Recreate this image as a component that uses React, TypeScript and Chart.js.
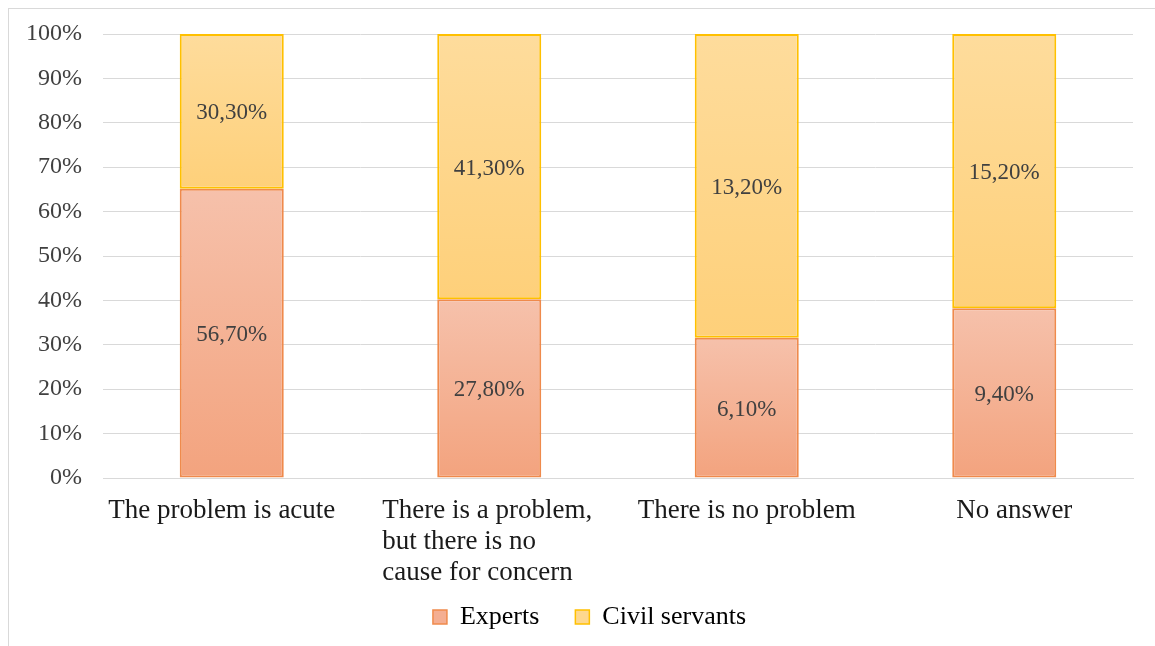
import React, { useEffect, useRef } from "react";
import { Chart, registerables } from "chart.js";

Chart.register(...registerables);

const categories: string[][] = [
  ["The problem is acute"],
  ["There is a problem,", "but there is no", "cause for concern"],
  ["There is no problem"],
  ["No answer"],
];
const seriesNames = ["Experts", "Civil servants"];
const experts = [56.7, 27.8, 6.1, 9.4];
const civilServants = [30.3, 41.3, 13.2, 15.2];
const yTickStep = 10;

const FONT = "'Liberation Serif', 'Times New Roman', serif";
// small horizontal nudges of the category labels (style only)
const LABEL_NUDGE = [-10, -2, 0, 10];

const share = (a: number[], b: number[]) => a.map((v, i) => (v / (v + b[i])) * 100);

const expertsShare = share(experts, civilServants);
const civilShare = share(civilServants, experts);

const COLORS = {
  expertsTop: "#F6C1AB",
  expertsBottom: "#F3A37E",
  expertsBorder: "#EF8A4C",
  civilTop: "#FEDC9C",
  civilBottom: "#FED07A",
  civilBorder: "#FFC000",
  grid: "#D9D9D9",
};

function makeGradient(chart: any, top: number, bottom: number, cTop: string, cBottom: string) {
  const y = chart.scales?.y;
  if (!y) return cBottom;
  const yTop = y.getPixelForValue(top);
  const yBot = y.getPixelForValue(bottom);
  if (!isFinite(yTop) || !isFinite(yBot)) return cBottom;
  const g = chart.ctx.createLinearGradient(0, yTop, 0, yBot);
  g.addColorStop(0, cTop);
  g.addColorStop(1, cBottom);
  return g;
}

const dataLabelPlugin = {
  id: "dataLabels",
  afterDatasetsDraw(chart: any) {
    const ctx = chart.ctx;
    ctx.save();
    ctx.font = `23px ${FONT}`;
    ctx.fillStyle = "#404040";
    ctx.textAlign = "center";
    ctx.textBaseline = "middle";
    const raws = [experts, civilServants];
    chart.data.datasets.forEach((_: any, di: number) => {
      const meta = chart.getDatasetMeta(di);
      meta.data.forEach((el: any, i: number) => {
        const v = raws[di][i];
        const txt = v.toFixed(2).replace(".", ",") + "%";
        ctx.fillText(txt, el.x, (el.y + el.base) / 2 + 2);
      });
    });
    ctx.restore();
  },
};

const xLabelPlugin = {
  id: "xLabels",
  afterLayout(chart: any) {
    if (chart.legend) {
      chart.legend.left += 19;
      chart.legend.right += 19;
    }
  },
  afterDraw(chart: any) {
    const ctx = chart.ctx;
    const xs = chart.scales.x;
    ctx.save();
    ctx.font = `27px ${FONT}`;
    ctx.fillStyle = "#1A1A1A";
    ctx.textAlign = "left";
    ctx.textBaseline = "alphabetic";
    categories.forEach((lines, i) => {
      const cx = xs.getPixelForValue(i) + LABEL_NUDGE[i];
      const w = Math.max(...lines.map((l) => ctx.measureText(l).width));
      const left = cx - w / 2;
      lines.forEach((l, j) => {
        ctx.fillText(l, left, xs.top + 40 + j * 31);
      });
    });
    ctx.restore();
  },
};

export default function App() {
  const ref = useRef<HTMLCanvasElement | null>(null);

  useEffect(() => {
    if (!ref.current) return;
    const chart = new Chart(ref.current, {
      type: "bar",
      data: {
        labels: categories.map((c) => c.join(" ")),
        datasets: [
          {
            label: seriesNames[0],
            data: expertsShare,
            backgroundColor: (c: any) =>
              c.dataIndex === undefined
                ? COLORS.expertsBottom
                : makeGradient(c.chart, expertsShare[c.dataIndex], 0, COLORS.expertsTop, COLORS.expertsBottom),
            borderColor: COLORS.expertsBorder,
            borderWidth: 2,
            borderSkipped: false,
            categoryPercentage: 0.404,
            barPercentage: 1,
          },
          {
            label: seriesNames[1],
            data: civilShare,
            backgroundColor: (c: any) =>
              c.dataIndex === undefined
                ? COLORS.civilBottom
                : makeGradient(c.chart, 100, expertsShare[c.dataIndex], COLORS.civilTop, COLORS.civilBottom),
            borderColor: COLORS.civilBorder,
            borderWidth: 2,
            borderSkipped: false,
            categoryPercentage: 0.404,
            barPercentage: 1,
          },
        ],
      },
      options: {
        responsive: false,
        animation: false,
        devicePixelRatio: 1,
        layout: { padding: { left: 0, right: 22, top: 26, bottom: 6 } },
        plugins: {
          tooltip: { enabled: false },
          legend: {
            position: "bottom",
            labels: {
              font: { family: FONT, size: 26 },
              color: "#1A1A1A",
              boxWidth: 14,
              boxHeight: 14,
              padding: 36,
              generateLabels: () => [
                { text: seriesNames[0], fillStyle: "#F4AE92", strokeStyle: COLORS.expertsBorder, lineWidth: 1.5, datasetIndex: 0, hidden: false },
                { text: seriesNames[1], fillStyle: "#FED88F", strokeStyle: COLORS.civilBorder, lineWidth: 1.5, datasetIndex: 1, hidden: false },
              ] as any,
            },
          },
        },
        scales: {
          x: {
            stacked: true,
            grid: { display: false },
            border: { display: true, color: COLORS.grid, width: 1 },
            ticks: { display: false },
            afterFit: (s: any) => {
              s.height = 90;
              s.paddingLeft = 0;
              s.paddingRight = 0;
            },
          },
          y: {
            stacked: true,
            min: 0,
            max: 100,
            ticks: {
              stepSize: yTickStep,
              padding: 21,
              font: { family: FONT, size: 24 },
              color: "#404040",
              callback: (v: any) => v + "%",
            },
            grid: { color: COLORS.grid, lineWidth: 1, drawTicks: false },
            border: { display: false },
            afterFit: (s: any) => {
              s.width = 95;
              s.paddingTop = 0;
              s.paddingBottom = 0;
            },
          },
        },
      },
      plugins: [dataLabelPlugin, xLabelPlugin],
    } as any);
    return () => chart.destroy();
  }, []);

  return (
    <>
      <div
        style={{
          position: "absolute",
          left: 8,
          top: 8,
          width: 1147,
          height: 638,
          boxSizing: "border-box",
          borderTop: "1px solid #D9D9D9",
          borderLeft: "1px solid #D9D9D9",
        }}
      />
      <div style={{ position: "absolute", left: 8, top: 8, width: 1147, height: 638 }}>
        <canvas ref={ref} width={1147} height={638} />
      </div>
    </>
  );
}
